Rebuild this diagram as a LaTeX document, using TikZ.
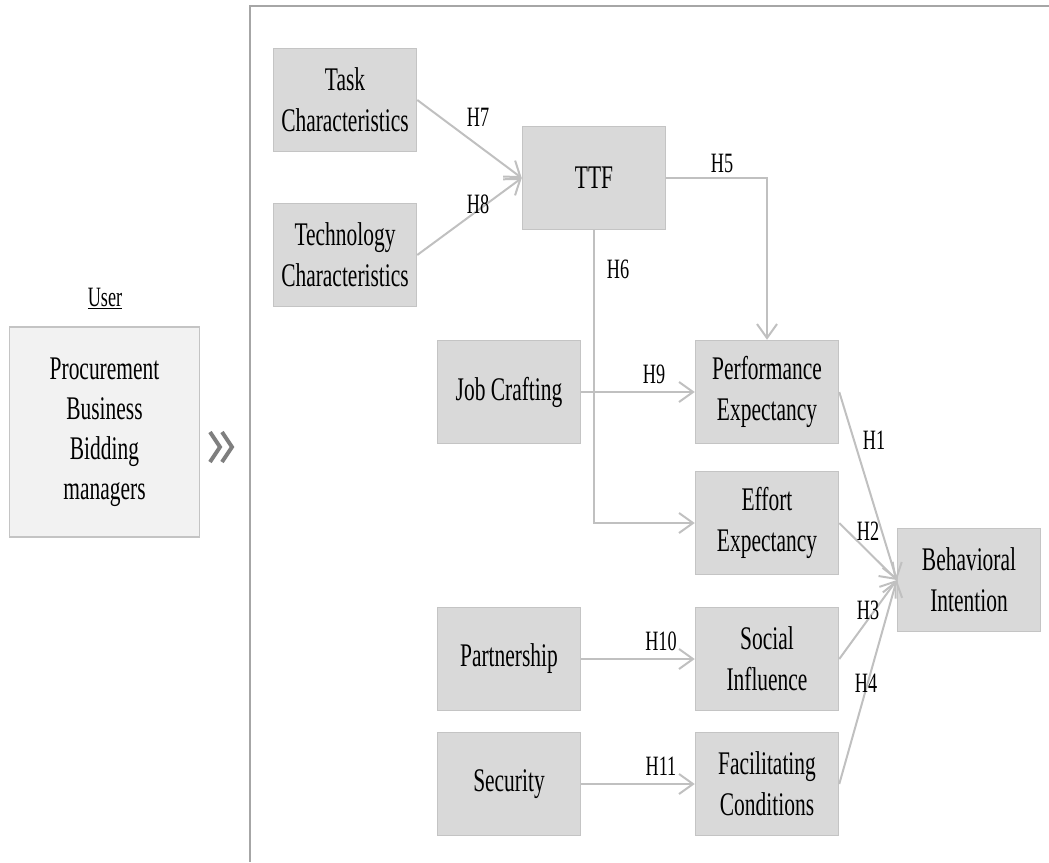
\documentclass[tikz,border=0pt]{standalone}
\usepackage{fontspec}
\setmainfont{Liberation Serif}[FakeStretch=0.65]
\usetikzlibrary{arrows.meta}
\definecolor{boxfill}{HTML}{D9D9D9}
\definecolor{boxline}{HTML}{C4C4C4}
\definecolor{userfill}{HTML}{F2F2F2}
\definecolor{arrowcol}{HTML}{C0C0C0}
\definecolor{framecol}{HTML}{A6A6A6}
\definecolor{chevcol}{HTML}{7F7F7F}
\tikzset{
  x=1pt, y=-1pt,
  cbox/.style={draw=boxline, line width=1.5pt, fill=boxfill, minimum width=143pt, minimum height=103pt,
    align=center, inner sep=0pt, font=\fontsize{33}{41}\selectfont},
  ubox/.style={draw=boxline, line width=1.5pt, fill=userfill, minimum width=190pt, minimum height=210pt,
    align=center, inner sep=0pt, font=\fontsize{33}{40}\selectfont},
  hlab/.style={inner sep=0pt, font=\fontsize{28}{30}\selectfont},
  conn/.style={draw=arrowcol, line width=2pt, -{Straight Barb[length=14pt,width=20pt,line width=2pt]}},
  frameline/.style={draw=framecol, line width=1.3pt},
  chev/.style={draw=chevcol, line width=4pt}
}
\begin{document}
\begin{tikzpicture}
\useasboundingbox (0,0) rectangle (1049,862);
% frame
\coordinate (ftl) at (250,6);
\coordinate (ftr) at (1049,6);
\coordinate (fbl) at (250,862);
\draw[frameline] (ftr) -- (ftl) -- (fbl);

% user side
\node[font=\fontsize{28}{30}\selectfont, inner sep=0pt] (userlab) at (105,298) {\underline{User}};
\node[ubox] (user) at (104.5,432) {Procurement\\Business\\Bidding\\managers};
\draw[chev] (210,432) -- (220,447) -- (210,462);
\draw[chev] (222,432) -- (232,447) -- (222,462);

% boxes
\node[cbox] (task) at (345,100) {Task\\Characteristics};
\node[cbox] (tech) at (345,255) {Technology\\Characteristics};
\node[cbox] (ttf) at (594,178) {TTF};
\node[cbox] (jc) at (509,392) {Job Crafting};
\node[cbox] (pe) at (767,392) {Performance\\Expectancy};
\node[cbox] (ee) at (767,523) {Effort\\Expectancy};
\node[cbox] (bi) at (969,580) {Behavioral\\Intention};
\node[cbox] (pa) at (509,659) {Partnership};
\node[cbox] (si) at (767,659) {Social\\Influence};
\node[cbox] (se) at (509,784) {Security};
\node[cbox] (fc) at (767,784) {Facilitating\\Conditions};

% connectors
\draw[conn] (task.east) -- (ttf.west);
\draw[conn] (tech.east) -- (ttf.west);
\draw[conn] (ttf.east) -| (pe.north);
\draw[conn] (ttf.south) |- (ee.west);
\draw[conn] (jc.east) -- (pe.west);
\draw[conn] (pa.east) -- (si.west);
\draw[conn] (se.east) -- (fc.west);
\draw[conn] (pe.east) -- (bi.west);
\draw[conn] (ee.east) -- (bi.west);
\draw[conn] (si.east) -- (bi.west);
\draw[conn] (fc.east) -- (bi.west);

% labels
\node[hlab] (h7) at (478,117) {H7};
\node[hlab] (h8) at (478,204) {H8};
\node[hlab] (h5) at (722,163) {H5};
\node[hlab] (h6) at (618,269) {H6};
\node[hlab] (h9) at (654,374) {H9};
\node[hlab] (h1) at (874,440) {H1};
\node[hlab] (h2) at (868,531) {H2};
\node[hlab] (h3) at (868,610) {H3};
\node[hlab] (h4) at (866,683) {H4};
\node[hlab] (h10) at (661,641) {H10};
\node[hlab] (h11) at (661,766) {H11};
\end{tikzpicture}
\end{document}
